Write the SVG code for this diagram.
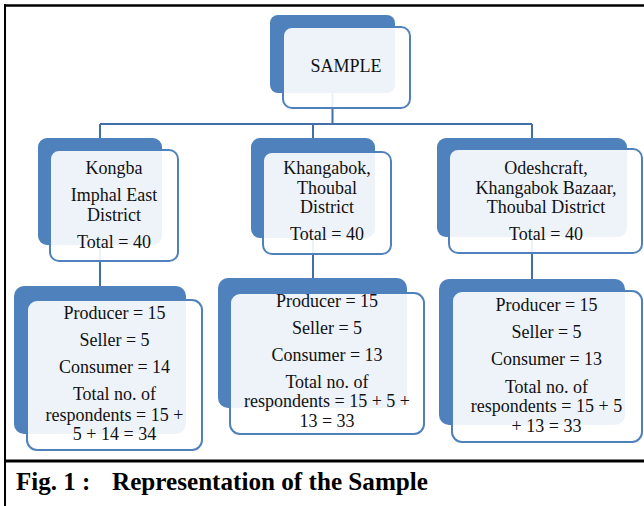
<svg xmlns="http://www.w3.org/2000/svg" width="644" height="506" viewBox="0 0 644 506">
<style>
.back{fill:#4f81bd}
.front{fill:#ffffff;fill-opacity:0.9;stroke:#4f81bd;stroke-width:2}
.conn{fill:none;stroke:#426fa9;stroke-width:2}
.t{font-family:"Liberation Serif","Times New Roman",serif;font-size:18px;fill:#111;text-anchor:middle}
.cap{font-family:"Liberation Serif","Times New Roman",serif;font-size:25px;font-weight:bold;fill:#000}
.frame{stroke:#000;fill:none}
</style>
<rect x="0" y="0" width="644" height="506" fill="#fff"/>
<g id="frame">
<line class="frame" x1="4" y1="5.5" x2="644" y2="5.5" stroke-width="2.5"/>
<line class="frame" x1="5" y1="4" x2="5" y2="506" stroke-width="2"/>
<line class="frame" x1="4" y1="461" x2="644" y2="461" stroke-width="3"/>
</g>
<g id="connectors">
<path class="conn" d="M332.5,93 V124"/>
<path class="conn" d="M100,124 H532"/>
<path class="conn" d="M100,124 V138 M313,124 V138 M532,124 V138"/>
<path class="conn" d="M100,245 V286 M313,238 V278 M532,237 V279"/>
</g>
<g id="sample">
<rect class="back" x="270" y="15" width="125" height="78" rx="8"/>
<rect class="front" x="283" y="27" width="127" height="81" rx="9"/>
<text class="t" x="346" y="72">SAMPLE</text>
</g>
<g id="kongba">
<rect class="back" x="38" y="138" width="124" height="107" rx="9"/>
<rect class="front" x="50" y="150" width="128" height="111" rx="9"/>
<text class="t" x="114" y="174">Kongba</text>
<text class="t" x="114" y="201">Imphal East</text>
<text class="t" x="114" y="220.5">District</text>
<text class="t" x="114" y="248">Total = 40</text>
</g>
<g id="khangabok">
<rect class="back" x="251" y="138" width="124" height="100" rx="9"/>
<rect class="front" x="263" y="152" width="128" height="102" rx="9"/>
<text class="t" x="327" y="174">Khangabok,</text>
<text class="t" x="327" y="194">Thoubal</text>
<text class="t" x="327" y="213">District</text>
<text class="t" x="327" y="240">Total = 40</text>
</g>
<g id="odeshcraft">
<rect class="back" x="437" y="138" width="190" height="99" rx="9"/>
<rect class="front" x="449" y="149" width="193" height="104" rx="9"/>
<text class="t" x="546" y="174">Odeshcraft,</text>
<text class="t" x="546" y="194">Khangabok Bazaar,</text>
<text class="t" x="546" y="213">Thoubal District</text>
<text class="t" x="546" y="240">Total = 40</text>
</g>
<g id="kongba-detail">
<rect class="back" x="14" y="286" width="172" height="148" rx="10"/>
<rect class="front" x="27" y="300" width="175" height="150" rx="10"/>
<text class="t" x="114.5" y="319">Producer = 15</text>
<text class="t" x="114.5" y="346">Seller = 5</text>
<text class="t" x="114.5" y="373">Consumer = 14</text>
<text class="t" x="114.5" y="400">Total no. of</text>
<text class="t" x="114.5" y="420.5">respondents = 15 +</text>
<text class="t" x="114.5" y="439.5">5 + 14 = 34</text>
</g>
<g id="khangabok-detail">
<rect class="back" x="218" y="278" width="189" height="130" rx="10"/>
<rect class="front" x="230" y="293" width="194" height="141" rx="10"/>
<text class="t" x="327" y="306.5">Producer = 15</text>
<text class="t" x="327" y="333.5">Seller = 5</text>
<text class="t" x="327" y="360.5">Consumer = 13</text>
<text class="t" x="327" y="388">Total no. of</text>
<text class="t" x="327" y="407">respondents = 15 + 5 +</text>
<text class="t" x="327" y="426.5">13 = 33</text>
</g>
<g id="odeshcraft-detail">
<rect class="back" x="439" y="279" width="186" height="146" rx="10"/>
<rect class="front" x="452" y="291" width="190" height="151" rx="10"/>
<text class="t" x="546.5" y="310.5">Producer = 15</text>
<text class="t" x="546.5" y="338">Seller = 5</text>
<text class="t" x="546.5" y="365">Consumer = 13</text>
<text class="t" x="546.5" y="392.5">Total no. of</text>
<text class="t" x="546.5" y="411.5">respondents = 15 + 5</text>
<text class="t" x="546.5" y="431.5">+ 13 = 33</text>
</g>
<g id="caption">
<text class="cap" x="16" y="490">Fig. 1 :</text>
<text class="cap" x="112" y="490" textLength="316" lengthAdjust="spacingAndGlyphs">Representation of the Sample</text>
</g>
</svg>
